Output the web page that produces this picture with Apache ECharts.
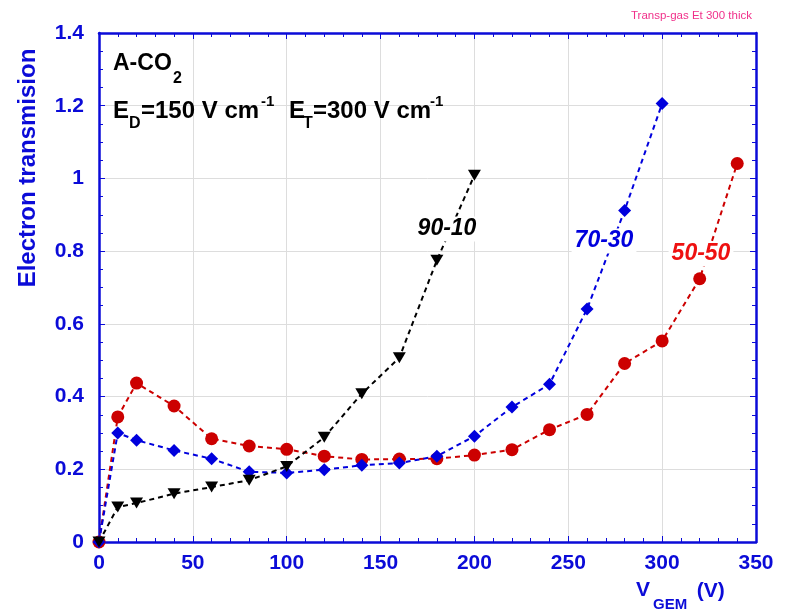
<!DOCTYPE html>
<html>
<head>
<meta charset="utf-8">
<script src="https://cdn.jsdelivr.net/npm/echarts@6/dist/echarts.min.js"></script>
<style>
html,body{margin:0;padding:0;background:#fff;}
#chart{width:794px;height:613px;}
</style>
</head>
<body>
<div id="chart"></div>
<script>
// ---- data ----
var vgem9010 = [0, 10, 20, 40, 60, 80, 100, 120, 140, 160, 180, 200];
var trans9010 = [0, 0.096, 0.107, 0.133, 0.151, 0.170, 0.208, 0.288, 0.408, 0.507, 0.775, 1.009];

var vgem7030 = [0, 10, 20, 40, 60, 80, 100, 120, 140, 160, 180, 200, 220, 240, 260, 280, 300];
var trans7030 = [0, 0.300, 0.280, 0.252, 0.229, 0.193, 0.190, 0.199, 0.211, 0.217, 0.236, 0.291, 0.371, 0.434, 0.641, 0.912, 1.206];

var vgem5050 = [0, 10, 20, 40, 60, 80, 100, 120, 140, 160, 180, 200, 220, 240, 260, 280, 300, 320, 340];
var trans5050 = [0, 0.344, 0.437, 0.374, 0.284, 0.264, 0.255, 0.236, 0.227, 0.228, 0.229, 0.239, 0.254, 0.309, 0.351, 0.491, 0.553, 0.724, 1.041];

var xTicks = {min: 0, max: 350, interval: 50};
var yTicks = {min: 0, max: 1.4, interval: 0.2};
var seriesNames = ['50-50', '70-30', '90-10'];

function pairs(xs, ys) { return xs.map(function (x, i) { return [x, ys[i]]; }); }

var FONT = '"Liberation Sans", Arial, sans-serif';
var AXIS_BLUE = '#0b0bd8';
var GRID_GRAY = '#dddddd';

function xAxisCfg(pos, labels) {
  return {
    type: 'value', position: pos, min: xTicks.min, max: xTicks.max, interval: xTicks.interval,
    axisLine: {show: true, onZero: false, lineStyle: {color: AXIS_BLUE, width: 2.5}},
    axisTick: {show: true, inside: true, length: 6, lineStyle: {color: AXIS_BLUE, width: 1}},
    minorTick: {show: true, splitNumber: 5, length: 4, lineStyle: {color: AXIS_BLUE, width: 1}},
    splitLine: {show: labels, lineStyle: {color: GRID_GRAY, width: 1}},
    minorSplitLine: {show: false},
    axisLabel: {show: labels, color: AXIS_BLUE, fontSize: 21, fontWeight: 'bold', fontFamily: FONT, margin: 11}
  };
}
function yAxisCfg(pos, labels) {
  return {
    type: 'value', position: pos, min: yTicks.min, max: yTicks.max, interval: yTicks.interval,
    axisLine: {show: true, onZero: false, lineStyle: {color: AXIS_BLUE, width: 2.5}},
    axisTick: {show: true, inside: true, length: 6, lineStyle: {color: AXIS_BLUE, width: 1}},
    minorTick: {show: true, splitNumber: 4, length: 4, lineStyle: {color: AXIS_BLUE, width: 1}},
    splitLine: {show: labels, lineStyle: {color: GRID_GRAY, width: 1}},
    minorSplitLine: {show: false},
    axisLabel: {show: labels, color: AXIS_BLUE, fontSize: 21, fontWeight: 'bold', fontFamily: FONT, margin: 15,
      formatter: function (v) { return String(+v.toFixed(1)); }}
  };
}

function txt(x, y, text, size, color, opts) {
  opts = opts || {};
  return {
    type: 'text', x: x, y: y, z: 100, rotation: opts.rotation || 0,
    style: {
      text: text, fill: color, fontSize: size, fontFamily: FONT,
      fontWeight: opts.weight || 'bold', fontStyle: opts.italic ? 'italic' : 'normal',
      textAlign: opts.align || 'left', textVerticalAlign: 'middle',
      backgroundColor: opts.bg || null, padding: opts.bg ? [1, 3] : 0
    }
  };
}

var chart = echarts.init(document.getElementById('chart'), null, {renderer: 'canvas'});
chart.setOption({
  backgroundColor: '#ffffff',
  animation: false,
  grid: {left: 99, right: 38, top: 33, bottom: 71, containLabel: false},
  xAxis: [xAxisCfg('bottom', true), xAxisCfg('top', false)],
  yAxis: [yAxisCfg('left', true), yAxisCfg('right', false)],
  series: [
    {
      name: seriesNames[0], type: 'line', xAxisIndex: 0, yAxisIndex: 0,
      data: pairs(vgem5050, trans5050),
      symbol: 'circle', symbolSize: 13,
      itemStyle: {color: '#cc0000'},
      lineStyle: {color: '#cc0000', width: 2, type: [5, 4]}
    },
    {
      name: seriesNames[1], type: 'line', xAxisIndex: 0, yAxisIndex: 0,
      data: pairs(vgem7030, trans7030),
      symbol: 'diamond', symbolSize: [13, 13],
      itemStyle: {color: '#0000dd'},
      lineStyle: {color: '#0000dd', width: 2, type: [5, 4]}
    },
    {
      name: seriesNames[2], type: 'line', xAxisIndex: 0, yAxisIndex: 0,
      data: pairs(vgem9010, trans9010),
      symbol: 'triangle', symbolRotate: 180, symbolSize: [13, 11],
      itemStyle: {color: '#000000'},
      lineStyle: {color: '#000000', width: 2, type: [5, 4]}
    }
  ],
  graphic: [
    // axis titles
    txt(28.5, 168, 'Electron transmision', 24, AXIS_BLUE, {rotation: Math.PI / 2, align: 'center'}),
    txt(636, 590, 'V', 21, AXIS_BLUE),
    txt(653, 605, 'GEM', 15, AXIS_BLUE),
    txt(691, 591, ' (V)', 21, AXIS_BLUE),
    // header
    txt(752, 16, 'Transp-gas Et 300 thick', 11.5, '#f0308a', {align: 'right', weight: 'normal'}),
    // gas / field annotations
    txt(113, 64, 'A-CO', 23, '#000000'),
    txt(173, 79, '2', 16, '#000000'),
    txt(113, 111, 'E', 24, '#000000'),
    txt(129, 124, 'D', 16, '#000000'),
    txt(141, 111, '=150 V cm', 24, '#000000'),
    txt(261, 102, '-1', 15, '#000000'),
    txt(289, 111, 'E', 24, '#000000'),
    txt(303, 124, 'T', 16, '#000000'),
    txt(313, 111, '=300 V cm', 24, '#000000'),
    txt(430, 102, '-1', 15, '#000000'),
    // series labels
    txt(447, 229, seriesNames[2], 23, '#000000', {align: 'center', italic: true, bg: '#ffffff'}),
    txt(604, 241, seriesNames[1], 23, '#0000dd', {align: 'center', italic: true, bg: '#ffffff'}),
    txt(701, 254, seriesNames[0], 23, '#ee1111', {align: 'center', italic: true, bg: '#ffffff'})
  ]
});
</script>
</body>
</html>
